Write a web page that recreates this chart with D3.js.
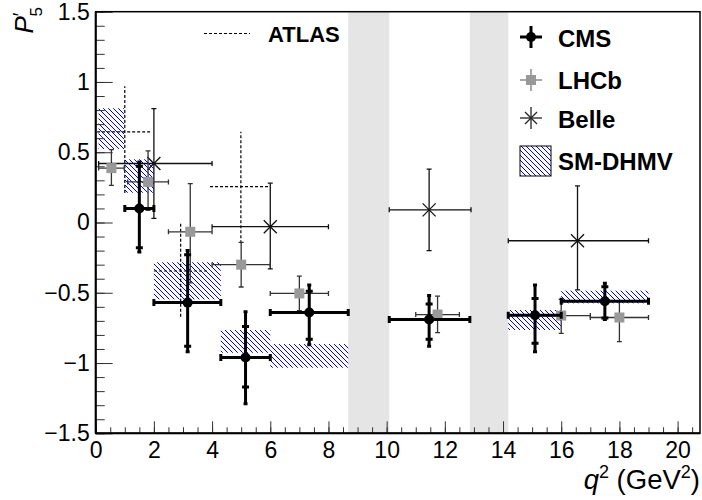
<!DOCTYPE html>
<html><head><meta charset="utf-8">
<script src="https://cdn.jsdelivr.net/npm/d3@7"></script>
<style>
body{margin:0;background:#fff;}
svg{display:block;font-family:"Liberation Sans",Arial,Helvetica,sans-serif;}
</style></head>
<body>
<svg id="c" width="702" height="500"></svg>
<script>
// ---------- data ----------
const xTicks = [0,2,4,6,8,10,12,14,16,18,20];
const yTicks = [-1.5,-1,-0.5,0,0.5,1,1.5];
const vetoBands = [[8.68,10.09],[12.86,14.18]];

// CMS
const cmsX     = [1.50, 3.16, 5.15, 7.34, 11.46, 15.10, 17.50];
const cmsXlo   = [1.0, 2.0, 4.3, 6.0, 10.09, 14.18, 16.0];
const cmsXhi   = [2.0, 4.3, 6.0, 8.68, 12.86, 16.0, 19.0];
const cmsY     = [0.10, -0.57, -0.96, -0.64, -0.69, -0.66, -0.56];
const cmsTotLo = [-0.21, -0.92, -1.29, -0.87, -0.88, -0.92, -0.69];
const cmsTotHi = [0.43, -0.20, -0.635, -0.445, -0.52, -0.445, -0.433];
const cmsStatLo= [-0.18, -0.88, -1.17, -0.83, -0.83, -0.86, -0.68];
const cmsStatHi= [0.40, -0.23, -0.74, -0.49, -0.58, -0.54, -0.457];

// LHCb
const lhcbX   = [0.54, 1.80, 3.25, 5.0, 7.0, 11.75, 16.0, 18.0];
const lhcbXlo = [0.1, 1.1, 2.5, 4.0, 6.0, 11.0, 15.0, 17.0];
const lhcbXhi = [0.98, 2.5, 4.0, 6.0, 8.0, 12.5, 17.0, 19.0];
const lhcbY   = [0.387, 0.289, -0.066, -0.300, -0.505, -0.655, -0.662, -0.676];
const lhcbEhi = [0.132, 0.220, 0.343, 0.158, 0.124, 0.131, 0.115, 0.118];
const lhcbElo = [0.123, 0.202, 0.364, 0.159, 0.122, 0.129, 0.127, 0.171];

// Belle
const belleX   = [2.0, 6.0, 11.46, 16.56];
const belleXlo = [0.1, 4.0, 10.09, 14.18];
const belleXhi = [4.0, 8.0, 12.9, 19.0];
const belleY   = [0.42, -0.03, 0.09, -0.13];
const belleEhi = [0.39, 0.31, 0.29, 0.39];
const belleElo = [0.39, 0.30, 0.29, 0.35];

// ATLAS
const atlasX   = [1.0, 2.92, 4.99];
const atlasXlo = [0.05, 2.0, 3.93];
const atlasXhi = [1.9, 3.85, 5.99];
const atlasY   = [0.645, -0.345, 0.255];
const atlasYlo = [0.21, -0.67, -0.148];
const atlasYhi = [0.97, 0.0, 0.645];

// SM-DHMV prediction boxes
const smXlo = [0.1, 1.0, 2.0, 4.3, 6.0, 14.18, 16.0];
const smXhi = [0.98, 2.0, 4.3, 6.0, 8.68, 16.0, 19.0];
const smYlo = [0.523, 0.212, -0.547, -0.927, -1.033, -0.765, -0.575];
const smYhi = [0.813, 0.45, -0.283, -0.765, -0.865, -0.623, -0.485];

const legendLabels = ["CMS","LHCb","Belle","SM-DHMV"];

// ---------- layout ----------
const L=95.7, R=700, T=11.7, B=433.3;
const x = d3.scaleLinear().domain([0,20.77]).range([L,R]);
const y = d3.scaleLinear().domain([-1.5,1.5]).range([B,T]);
const svg = d3.select("#c");

const defs = svg.append("defs");
const hw = 5;
defs.append("pattern").attr("id","hatch").attr("patternUnits","userSpaceOnUse")
  .attr("width",hw).attr("height",hw)
  .append("path")
  .attr("d",`M0,0L${hw},${hw}M${hw-1},-1L${hw+1},1M-1,${hw-1}L1,${hw+1}`)
  .attr("stroke","#0000ff").attr("stroke-width",1).attr("fill","none");
defs.append("clipPath").attr("id","clip").append("rect")
  .attr("x",L).attr("y",T).attr("width",R-L).attr("height",B-T);

const plot = svg.append("g").attr("clip-path","url(#clip)");

// veto bands
plot.selectAll("rect.band").data(vetoBands).join("rect").attr("class","band")
  .attr("x",d=>x(d[0])).attr("width",d=>x(d[1])-x(d[0]))
  .attr("y",T).attr("height",B-T).attr("fill","#e5e5e5");

// SM boxes
plot.selectAll("rect.sm").data(smXlo.map((v,i)=>i)).join("rect").attr("class","sm")
  .attr("x",i=>x(smXlo[i])).attr("width",i=>x(smXhi[i])-x(smXlo[i]))
  .attr("y",i=>y(smYhi[i])).attr("height",i=>y(smYlo[i])-y(smYhi[i]))
  .attr("fill","url(#hatch)");

// ATLAS
const ag = plot.append("g").attr("stroke","#000").attr("stroke-width",1.2).attr("stroke-dasharray","3,2").attr("fill","none");
atlasX.forEach((xv,i)=>{
  ag.append("line").attr("x1",x(atlasXlo[i])).attr("x2",x(atlasXhi[i])).attr("y1",y(atlasY[i])).attr("y2",y(atlasY[i]));
  ag.append("line").attr("x1",x(xv)).attr("x2",x(xv)).attr("y1",y(atlasYlo[i])).attr("y2",y(atlasYhi[i]));
});

// helper for thin error bars with small caps
function thinBars(g, xs, xlo, xhi, ys, eLo, eHi){
  xs.forEach((xv,i)=>{
    const cx=x(xv), cy=y(ys[i]);
    const a=x(xlo[i]), b=x(xhi[i]), t=y(ys[i]+eHi[i]), u=y(ys[i]-eLo[i]);
    g.append("line").attr("x1",a).attr("x2",b).attr("y1",cy).attr("y2",cy);
    g.append("line").attr("x1",cx).attr("x2",cx).attr("y1",t).attr("y2",u);
    g.append("line").attr("x1",a).attr("x2",a).attr("y1",cy-2.5).attr("y2",cy+2.5);
    g.append("line").attr("x1",b).attr("x2",b).attr("y1",cy-2.5).attr("y2",cy+2.5);
    g.append("line").attr("x1",cx-2.5).attr("x2",cx+2.5).attr("y1",t).attr("y2",t);
    g.append("line").attr("x1",cx-2.5).attr("x2",cx+2.5).attr("y1",u).attr("y2",u);
  });
}

// Belle
const bg = plot.append("g").attr("stroke","#111").attr("stroke-width",1.3);
thinBars(bg, belleX, belleXlo, belleXhi, belleY, belleElo, belleEhi);
belleX.forEach((xv,i)=>{
  const cx=x(xv), cy=y(belleY[i]), s=6.5;
  bg.append("line").attr("x1",cx-s).attr("y1",cy-s).attr("x2",cx+s).attr("y2",cy+s);
  bg.append("line").attr("x1",cx-s).attr("y1",cy+s).attr("x2",cx+s).attr("y2",cy-s);
});

// LHCb
const lg = plot.append("g").attr("stroke","#333").attr("stroke-width",1.3);
thinBars(lg, lhcbX, lhcbXlo, lhcbXhi, lhcbY, lhcbElo, lhcbEhi);
plot.selectAll("rect.lhcb").data(lhcbX.map((v,i)=>i)).join("rect").attr("class","lhcb")
  .attr("x",i=>x(lhcbX[i])-5).attr("y",i=>y(lhcbY[i])-5).attr("width",10).attr("height",10)
  .attr("fill","#999");

// CMS
const cg = plot.append("g").attr("stroke","#000").attr("stroke-width",3);
cmsX.forEach((xv,i)=>{
  const cx=x(xv), cy=y(cmsY[i]);
  const a=x(cmsXlo[i]), b=x(cmsXhi[i]);
  cg.append("line").attr("x1",a).attr("x2",b).attr("y1",cy).attr("y2",cy);
  cg.append("line").attr("x1",cx).attr("x2",cx).attr("y1",y(cmsTotHi[i])).attr("y2",y(cmsTotLo[i]));
  [a,b].forEach(e=>cg.append("line").attr("x1",e).attr("x2",e).attr("y1",cy-3.5).attr("y2",cy+3.5));
  [cmsStatHi[i],cmsStatLo[i]].forEach(v=>cg.append("line").attr("x1",cx-3.5).attr("x2",cx+3.5).attr("y1",y(v)).attr("y2",y(v)));
  [cmsTotHi[i],cmsTotLo[i]].forEach(v=>cg.append("line").attr("x1",cx-2).attr("x2",cx+2).attr("y1",y(v)).attr("y2",y(v)));
  cg.append("circle").attr("cx",cx).attr("cy",cy).attr("r",5).attr("fill","#000").attr("stroke","none");
});

// ---------- axes ----------
const tickCol="#333";
function styleAxis(g){ g.select(".domain").remove(); g.selectAll("line").attr("stroke",tickCol); }
const yMinor = d3.range(-1.5,1.5001,0.1).map(v=>+v.toFixed(2));
const xMinor = d3.range(0,20.77,0.5);
svg.append("g").attr("transform",`translate(${L},0)`)
  .call(d3.axisLeft(y).tickValues(yMinor).tickSize(-9).tickFormat("")).call(styleAxis);
svg.append("g").attr("transform",`translate(${L},0)`)
  .call(d3.axisLeft(y).tickValues(yTicks).tickSize(-17).tickPadding(6)
    .tickFormat(d=>d3.format("")(d))).call(styleAxis)
  .selectAll("text").attr("font-size",23).attr("fill","#000")
  .attr("font-family","'Liberation Sans',Arial,sans-serif");
svg.append("g").attr("transform",`translate(0,${B})`)
  .call(d3.axisBottom(x).tickValues(xMinor).tickSize(-6).tickFormat("")).call(styleAxis);
svg.append("g").attr("transform",`translate(0,${B})`)
  .call(d3.axisBottom(x).tickValues(xTicks).tickSize(-12).tickPadding(8.5).tickFormat(d3.format("d"))).call(styleAxis)
  .selectAll("text").attr("font-size",23).attr("fill","#000")
  .attr("font-family","'Liberation Sans',Arial,sans-serif");

// frame
svg.append("rect").attr("x",L).attr("y",T).attr("width",R-L).attr("height",B-T)
  .attr("fill","none").attr("stroke","#000").attr("stroke-width",1.5);
svg.append("line").attr("x1",L).attr("x2",L).attr("y1",T).attr("y2",B).attr("stroke","#000").attr("stroke-width",2);
svg.append("line").attr("x1",L).attr("x2",R).attr("y1",B).attr("y2",B).attr("stroke","#000").attr("stroke-width",2);

// axis titles
const xt = svg.append("text").attr("x",R).attr("y",489).attr("text-anchor","end").attr("font-size",27.5);
xt.append("tspan").attr("font-style","italic").text("q");
xt.append("tspan").attr("font-size",18).attr("dy",-11).text("2");
xt.append("tspan").attr("dy",11).text(" (GeV");
xt.append("tspan").attr("font-size",18).attr("dy",-11).text("2");
xt.append("tspan").attr("dy",11).text(")");

const yt = svg.append("text").attr("transform","translate(33,7) rotate(-90)").attr("text-anchor","end").attr("font-size",26);
yt.append("tspan").attr("font-style","italic").text("P");
yt.append("tspan").attr("font-size",20).attr("dy",-6).attr("dx",0).text("′");
yt.append("tspan").attr("font-size",17).attr("dy",15).attr("dx",-4).text("5");

// ---------- legend ----------
const leg = svg.append("g");
// ATLAS
leg.append("line").attr("x1",204).attr("x2",250).attr("y1",33.5).attr("y2",33.5)
  .attr("stroke","#000").attr("stroke-width",1.2).attr("stroke-dasharray","3,2");
leg.append("text").attr("x",268).attr("y",42).attr("font-size",22).attr("font-weight","bold").text("ATLAS");

const lx=531, rowsY=[37,80,118,161];
// CMS
leg.append("line").attr("x1",520).attr("x2",542).attr("y1",rowsY[0]).attr("y2",rowsY[0]).attr("stroke","#000").attr("stroke-width",3);
leg.append("line").attr("x1",lx).attr("x2",lx).attr("y1",rowsY[0]-11).attr("y2",rowsY[0]+11).attr("stroke","#000").attr("stroke-width",3);
leg.append("circle").attr("cx",lx).attr("cy",rowsY[0]).attr("r",5).attr("fill","#000");
// LHCb
leg.append("line").attr("x1",520).attr("x2",542).attr("y1",rowsY[1]).attr("y2",rowsY[1]).attr("stroke","#777").attr("stroke-width",1.3);
leg.append("line").attr("x1",lx).attr("x2",lx).attr("y1",rowsY[1]-11).attr("y2",rowsY[1]+11).attr("stroke","#777").attr("stroke-width",1.3);
leg.append("rect").attr("x",lx-5).attr("y",rowsY[1]-5).attr("width",10).attr("height",10).attr("fill","#999");
// Belle
leg.append("line").attr("x1",520).attr("x2",542).attr("y1",rowsY[2]).attr("y2",rowsY[2]).attr("stroke","#222").attr("stroke-width",1.3);
leg.append("line").attr("x1",lx).attr("x2",lx).attr("y1",rowsY[2]-11).attr("y2",rowsY[2]+11).attr("stroke","#222").attr("stroke-width",1.3);
leg.append("line").attr("x1",lx-6).attr("x2",lx+6).attr("y1",rowsY[2]-6).attr("y2",rowsY[2]+6).attr("stroke","#222").attr("stroke-width",1.3);
leg.append("line").attr("x1",lx-6).attr("x2",lx+6).attr("y1",rowsY[2]+6).attr("y2",rowsY[2]-6).attr("stroke","#222").attr("stroke-width",1.3);
// SM
leg.append("rect").attr("x",520).attr("y",146).attr("width",31).attr("height",30)
  .attr("fill","url(#hatch)").attr("stroke","#000").attr("stroke-width",1);

leg.selectAll("text.lab").data(legendLabels).join("text").attr("class","lab")
  .attr("x",558).attr("y",(d,i)=>[47,89,128,170][i])
  .attr("font-size",24).attr("font-weight","bold").text(d=>d);
</script>
</body></html>
